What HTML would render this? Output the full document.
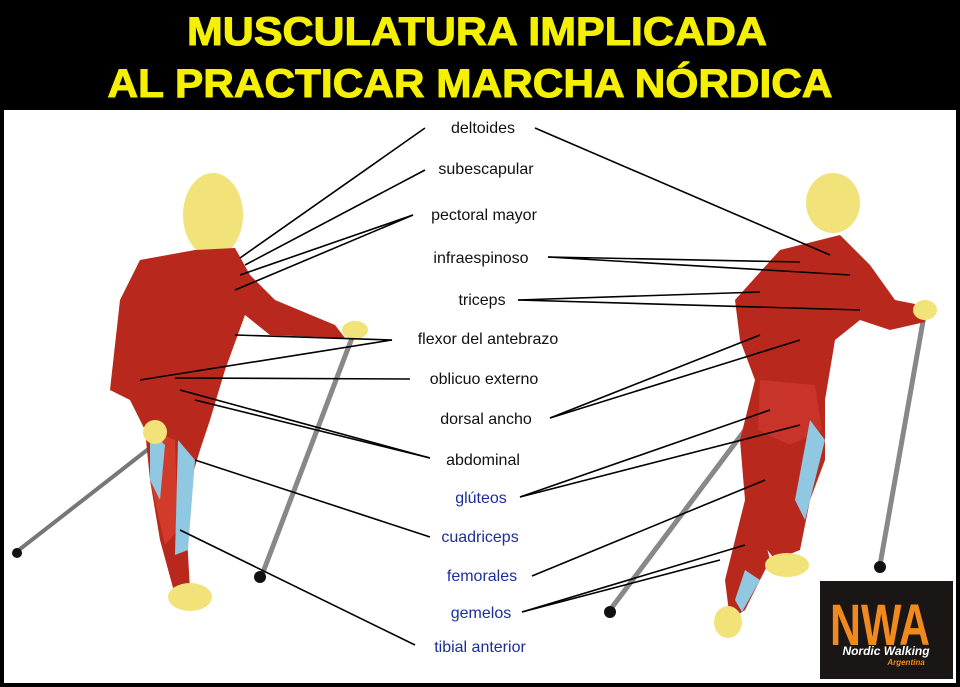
<!DOCTYPE html>
<html><head><meta charset="utf-8"><style>
html,body{margin:0;padding:0;width:960px;height:687px;overflow:hidden;background:#000;font-family:"Liberation Sans",sans-serif}
</style></head><body>
<svg width="960" height="687" xmlns="http://www.w3.org/2000/svg" style="display:block">
<rect width="960" height="687" fill="#000"/>
<text x="477" y="45" text-anchor="middle" fill="#f5f000" font-size="40" font-weight="bold" font-family="Liberation Sans" textLength="580" lengthAdjust="spacingAndGlyphs" stroke="#f5f000" stroke-width="1">MUSCULATURA IMPLICADA</text>
<text x="470" y="97" text-anchor="middle" fill="#f5f000" font-size="40" font-weight="bold" font-family="Liberation Sans" textLength="725" lengthAdjust="spacingAndGlyphs" stroke="#f5f000" stroke-width="1">AL PRACTICAR MARCHA NÓRDICA</text>
<rect x="4" y="110" width="952" height="573" fill="#fff"/>
<!-- left figure -->
<g>
<line x1="15" y1="553" x2="160" y2="440" stroke="#777" stroke-width="4"/>
<circle cx="17" cy="553" r="5" fill="#111"/>
<line x1="355" y1="330" x2="262" y2="575" stroke="#888" stroke-width="5"/>
<circle cx="260" cy="577" r="6" fill="#111"/>
<ellipse cx="213" cy="215" rx="30" ry="42" fill="#f2e27a"/>
<polygon points="195,250 235,248 250,275 275,300 335,325 345,338 270,335 245,315 225,370 210,420 200,450 185,500 190,590 175,595 160,540 150,480 145,430 130,400 110,390 120,300 140,260" fill="#b8281d"/>
<polygon points="150,430 175,440 178,530 165,545 150,480" fill="#d23a2a"/>
<polygon points="178,440 195,460 188,550 175,555" fill="#8fc8e0"/>
<polygon points="150,430 165,445 160,500 150,480" fill="#8fc8e0"/>
<ellipse cx="190" cy="597" rx="22" ry="14" fill="#f2e27a"/>
<ellipse cx="355" cy="330" rx="13" ry="9" fill="#f2e27a"/>
<ellipse cx="155" cy="432" rx="12" ry="12" fill="#f2e27a"/>
</g>
<!-- right figure -->
<g>
<line x1="925" y1="310" x2="880" y2="565" stroke="#888" stroke-width="5"/>
<circle cx="880" cy="567" r="6" fill="#111"/>
<line x1="760" y1="410" x2="610" y2="610" stroke="#888" stroke-width="5"/>
<circle cx="610" cy="612" r="6" fill="#111"/>
<ellipse cx="833" cy="203" rx="27" ry="30" fill="#f2e27a"/>
<polygon points="780,250 840,235 870,265 895,300 920,305 925,322 890,330 860,320 835,340 825,400 825,460 810,500 800,550 775,560 760,540 745,500 740,440 755,380 740,340 735,300" fill="#b8281d"/>
<polygon points="760,380 815,385 822,430 790,445 758,430" fill="#c8332a"/>
<polygon points="810,420 825,440 805,520 795,500" fill="#8fc8e0"/>
<polygon points="750,480 770,560 745,610 730,620 725,580" fill="#b8281d"/>
<polygon points="745,570 760,580 742,612 735,600" fill="#8fc8e0"/>
<ellipse cx="787" cy="565" rx="22" ry="12" fill="#f2e27a"/>
<ellipse cx="728" cy="622" rx="14" ry="16" fill="#f2e27a"/>
<ellipse cx="925" cy="310" rx="12" ry="10" fill="#f2e27a"/>
</g>
<!-- lines -->
<g stroke="#000" stroke-width="1.6" fill="none">
<line x1="425" y1="128" x2="240" y2="258"/>
<line x1="535" y1="128" x2="830" y2="255"/>
<line x1="425" y1="170" x2="245" y2="265"/>
<line x1="413" y1="215" x2="240" y2="275"/>
<line x1="413" y1="215" x2="235" y2="290"/>
<line x1="548" y1="257" x2="800" y2="262"/>
<line x1="548" y1="257" x2="850" y2="275"/>
<line x1="518" y1="300" x2="760" y2="292"/>
<line x1="518" y1="300" x2="860" y2="310"/>
<line x1="392" y1="340" x2="235" y2="335"/>
<line x1="392" y1="340" x2="140" y2="380"/>
<line x1="410" y1="379" x2="175" y2="378"/>
<line x1="550" y1="418" x2="760" y2="335"/>
<line x1="550" y1="418" x2="800" y2="340"/>
<line x1="430" y1="458" x2="180" y2="390"/>
<line x1="430" y1="458" x2="195" y2="400"/>
<line x1="520" y1="497" x2="770" y2="410"/>
<line x1="520" y1="497" x2="800" y2="425"/>
<line x1="430" y1="537" x2="195" y2="460"/>
<line x1="532" y1="576" x2="765" y2="480"/>
<line x1="522" y1="612" x2="745" y2="545"/>
<line x1="522" y1="612" x2="720" y2="560"/>
<line x1="415" y1="645" x2="180" y2="530"/>
</g>
<g font-family="Liberation Sans" font-size="16" text-anchor="middle" fill="#111">
<text x="483" y="133">deltoides</text>
<text x="486" y="174">subescapular</text>
<text x="484" y="220">pectoral mayor</text>
<text x="481" y="263">infraespinoso</text>
<text x="482" y="305">triceps</text>
<text x="488" y="344">flexor del antebrazo</text>
<text x="484" y="384">oblicuo externo</text>
<text x="486" y="424">dorsal ancho</text>
<text x="483" y="465">abdominal</text>
<g fill="#1a2e9c">
<text x="481" y="503">glúteos</text>
<text x="480" y="542">cuadriceps</text>
<text x="482" y="581">femorales</text>
<text x="481" y="618">gemelos</text>
<text x="480" y="652">tibial anterior</text>
</g>
</g>
<!-- logo -->
<rect x="820" y="581" width="133" height="98" fill="#1a1616"/>
<text x="880" y="645" text-anchor="middle" font-family="Liberation Sans" font-weight="bold" font-size="58" fill="#f08a1e" textLength="100" lengthAdjust="spacingAndGlyphs">NWA</text>
<text x="886" y="655" text-anchor="middle" font-family="Liberation Sans" font-weight="bold" font-style="italic" font-size="12" fill="#fff">Nordic Walking</text>
<text x="906" y="665" text-anchor="middle" font-family="Liberation Sans" font-weight="bold" font-style="italic" font-size="8" fill="#f08a1e">Argentina</text>
</svg>
</body></html>
